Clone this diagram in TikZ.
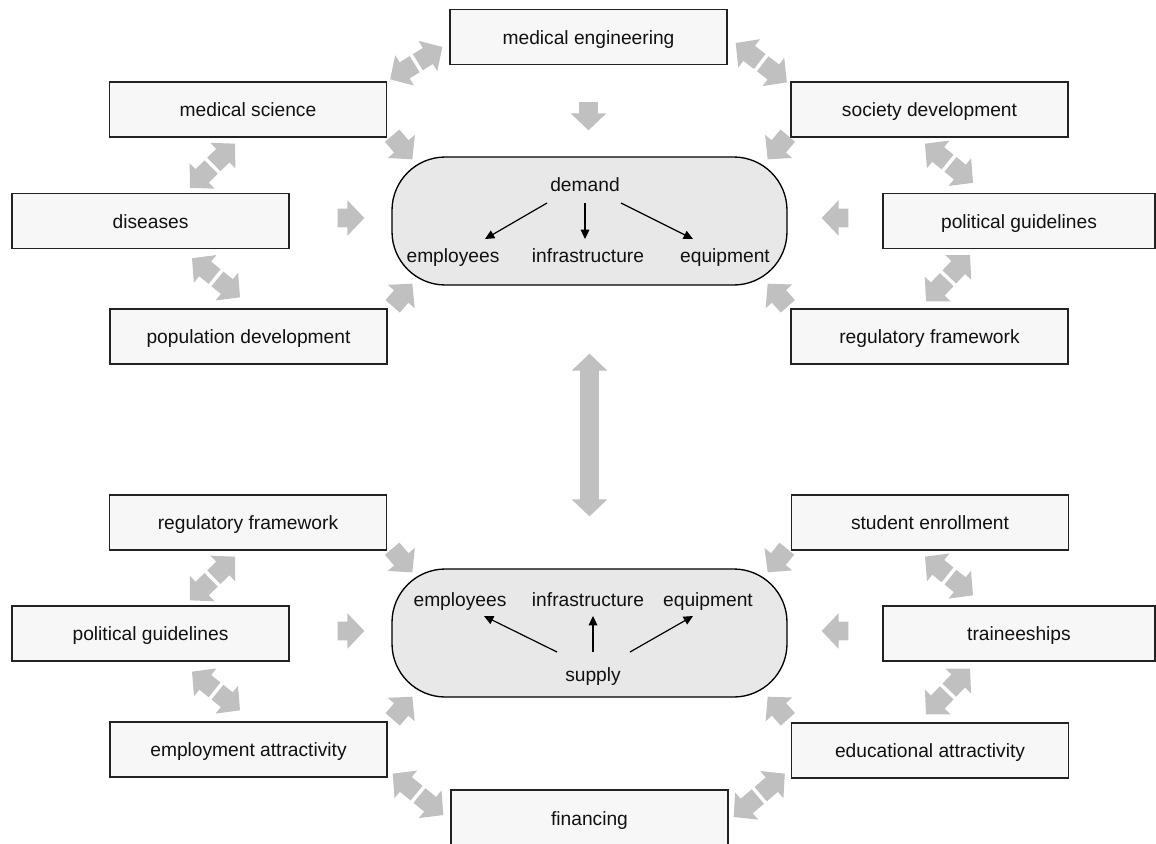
\documentclass[tikz,border=0pt]{standalone}
\usepackage{fontspec}
\setmainfont{Liberation Sans}
\usetikzlibrary{calc,arrows.meta}

\definecolor{boxfill}{HTML}{F7F7F7}
\definecolor{hubfill}{HTML}{E8E8E8}
\definecolor{fatgray}{HTML}{C0C0C0}
\definecolor{edgecol}{HTML}{222222}
\definecolor{inkcol}{HTML}{111111}

% broad grey arrow from tail #1 to tip #2
\newcommand{\fatarrow}[2]{%
  \coordinate (fa-t) at #1;
  \coordinate (fa-p) at #2;
  \coordinate (fa-h) at ($(fa-p)!12.75pt!(fa-t)$);
  \fill[fatgray] ($(fa-t)!7.1pt!90:(fa-p)$) -- ($(fa-h)!7.1pt!90:(fa-p)$)
    -- ($(fa-h)!13.4pt!90:(fa-p)$) -- (fa-p) -- ($(fa-h)!13.4pt!-90:(fa-p)$)
    -- ($(fa-h)!7.1pt!-90:(fa-p)$) -- ($(fa-t)!7.1pt!-90:(fa-p)$) -- cycle;}
% pair of broad arrows pointing apart, split by a narrow gap
\newcommand{\fatpair}[2]{%
  \coordinate (fd-a) at #1;
  \coordinate (fd-b) at #2;
  \coordinate (fd-m) at ($(fd-a)!0.5!(fd-b)$);
  \coordinate (fd-ta) at ($(fd-m)!1.4pt!(fd-a)$);
  \coordinate (fd-tb) at ($(fd-m)!1.4pt!(fd-b)$);
  \fatarrow{(fd-ta)}{(fd-a)}
  \fatarrow{(fd-tb)}{(fd-b)}}
% one continuous double-headed broad arrow
\newcommand{\fatboth}[2]{%
  \coordinate (fb-a) at #1;
  \coordinate (fb-b) at #2;
  \coordinate (fb-m) at ($(fb-a)!0.5!(fb-b)$);
  \coordinate (fb-ta) at ($(fb-m)!-0.6pt!(fb-a)$);
  \coordinate (fb-tb) at ($(fb-m)!-0.6pt!(fb-b)$);
  \fatarrow{(fb-ta)}{(fb-a)}
  \fatarrow{(fb-tb)}{(fb-b)}}

\tikzset{
  labelfont/.style={font=\fontsize{14.4pt}{17pt}\selectfont, text=inkcol},
  factor/.style={draw=edgecol, line width=1pt, fill=boxfill,
    minimum width=207.75pt, minimum height=41.25pt, inner sep=0pt,
    text height=10.5pt, text depth=0pt, labelfont},
  factoredge/.style={factor, minimum width=204pt},
  hub/.style={draw=black, line width=1pt, fill=hubfill, rounded corners=40pt,
    minimum width=296.25pt, minimum height=96pt, inner sep=0pt},
  item/.style={inner sep=0pt, text height=10.5pt, text depth=0pt, labelfont},
  flow/.style={draw=black, line width=0.9pt, -{Triangle[length=7pt,width=6.5pt]}},
}

\begin{document}
\begin{tikzpicture}[x=0.75pt, y=-0.75pt]
\useasboundingbox (0,0) rectangle (1156,843);

% ---- demand side ----
\node[hub] (dem) at (589.5,221) {};
\node[factor] (me)  at (588.5,37)    {medical engineering};
\node[factor] (ms)  at (248,109.5)   {medical science};
\node[factor] (sd)  at (929.5,109.5) {society development};
\node[factor] (dis) at (150.5,221)   {diseases};
\node[factoredge] (pgt) at (1019,221) {political guidelines};
\node[factor] (pop) at (248.5,336.5) {population development};
\node[factor] (rft) at (929.5,336.5) {regulatory framework};

\node[item] (dmd)  at (585,184) {demand};
\node[item] (emp1) at (453,255) {employees};
\node[item] (inf1) at (588,255) {infrastructure};
\node[item] (eqp1) at (725,255) {equipment};
\draw[flow] ($(dmd)+(-38,19)$) -- ($(emp1)+(32,-16)$);
\draw[flow] ($(dmd)+(0,19)$) -- ($(inf1)+(-3,-16)$);
\draw[flow] ($(dmd)+(36,19)$) -- ($(eqp1)+(-32,-16)$);

% ---- supply side ----
\node[hub] (sup) at (589.5,633) {};
\node[factor] (rfl) at (248,522.5)   {regulatory framework};
\node[factor] (sen) at (930,522.5)   {student enrollment};
\node[factor] (pgl) at (150.5,633.5) {political guidelines};
\node[factoredge] (trn) at (1019,633.5) {traineeships};
\node[factor] (ea)  at (248.5,749.5) {employment attractivity};
\node[factor] (edu) at (930,750.5)   {educational attractivity};
\node[factor, minimum height=42pt] (fin) at (589.5,818) {financing};

\node[item] (spl)  at (593,674) {supply};
\node[item] (emp2) at (460,599) {employees};
\node[item] (inf2) at (588,599) {infrastructure};
\node[item] (eqp2) at (708,599) {equipment};
\draw[flow] ($(spl)+(-36,-22)$) -- ($(emp2)+(24,17)$);
\draw[flow] ($(spl)+(0,-22)$) -- ($(inf2)+(5,17)$);
\draw[flow] ($(spl)+(37,-22)$) -- ($(eqp2)+(-15,17)$);

% ---- influences on demand ----
\fatarrow{($(me.south)+(0,37)$)}{($(dem.north)+(-1,-26)$)}
\fatarrow{($(ms.south east)+(5,-2)$)}{($(dem.north west)+(21,3)$)}
\fatarrow{($(dis.east)+(48,-3)$)}{($(dem.west)+(-27,-3)$)}
\fatarrow{($(pop.north east)+(5,-2)$)}{($(dem.south west)+(21,-2)$)}
\fatarrow{($(sd.south west)+(-2.5,-2)$)}{($(dem.north east)+(-20,3)$)}
\fatarrow{($(pgt.west)+(-34,-3)$)}{($(dem.east)+(34,-3)$)}
\fatarrow{($(rft.north west)+(-2.5,-2)$)}{($(dem.south east)+(-20,-2)$)}

\fatpair{($(ms.north east)+(3,-2)$)}{($(me.west)+(-7,10)$)}
\fatpair{($(ms.south)+(-13,6)$)}{($(dis.north)+(39.5,-5)$)}
\fatpair{($(dis.south)+(41.5,9)$)}{($(pop.north)+(-8.5,-11)$)}
\fatpair{($(me.east)+(8,6)$)}{($(sd.north west)+(-3.5,1)$)}
\fatpair{($(sd.south)+(-4.5,6)$)}{($(pgt.north)+(-46,-10)$)}
\fatpair{($(pgt.south)+(-49,6)$)}{($(rft.north)+(-3.5,-7)$)}

% ---- demand versus supply ----
\fatboth{($(dem.south)+(0,68)$)}{($(sup.north)+(0,-52)$)}

% ---- influences on supply ----
\fatarrow{($(rfl.south east)+(5,-2)$)}{($(sup.north west)+(21,4)$)}
\fatarrow{($(pgl.east)+(48,-2.5)$)}{($(sup.west)+(-27,-2)$)}
\fatarrow{($(ea.north east)+(5,-2)$)}{($(sup.south west)+(21,-1)$)}
\fatarrow{($(sen.south west)+(-4,-2)$)}{($(sup.north east)+(-20,4)$)}
\fatarrow{($(trn.west)+(-34,-2.5)$)}{($(sup.east)+(34,-2)$)}
\fatarrow{($(edu.north west)+(-3,-3)$)}{($(sup.south east)+(-20,-1)$)}

\fatpair{($(rfl.south)+(-13,6)$)}{($(pgl.north)+(39.5,-5)$)}
\fatpair{($(pgl.south)+(41.5,10)$)}{($(ea.north)+(-8.5,-11)$)}
\fatpair{($(ea.south east)+(5,-4)$)}{($(fin.west)+(-7,-3)$)}
\fatpair{($(fin.east)+(5,-1)$)}{($(edu.south west)+(-6,-5)$)}
\fatpair{($(sen.south)+(-5,6)$)}{($(trn.north)+(-46,-10)$)}
\fatpair{($(trn.south)+(-49,7)$)}{($(edu.north)+(-4,-8)$)}
\end{tikzpicture}
\end{document}
